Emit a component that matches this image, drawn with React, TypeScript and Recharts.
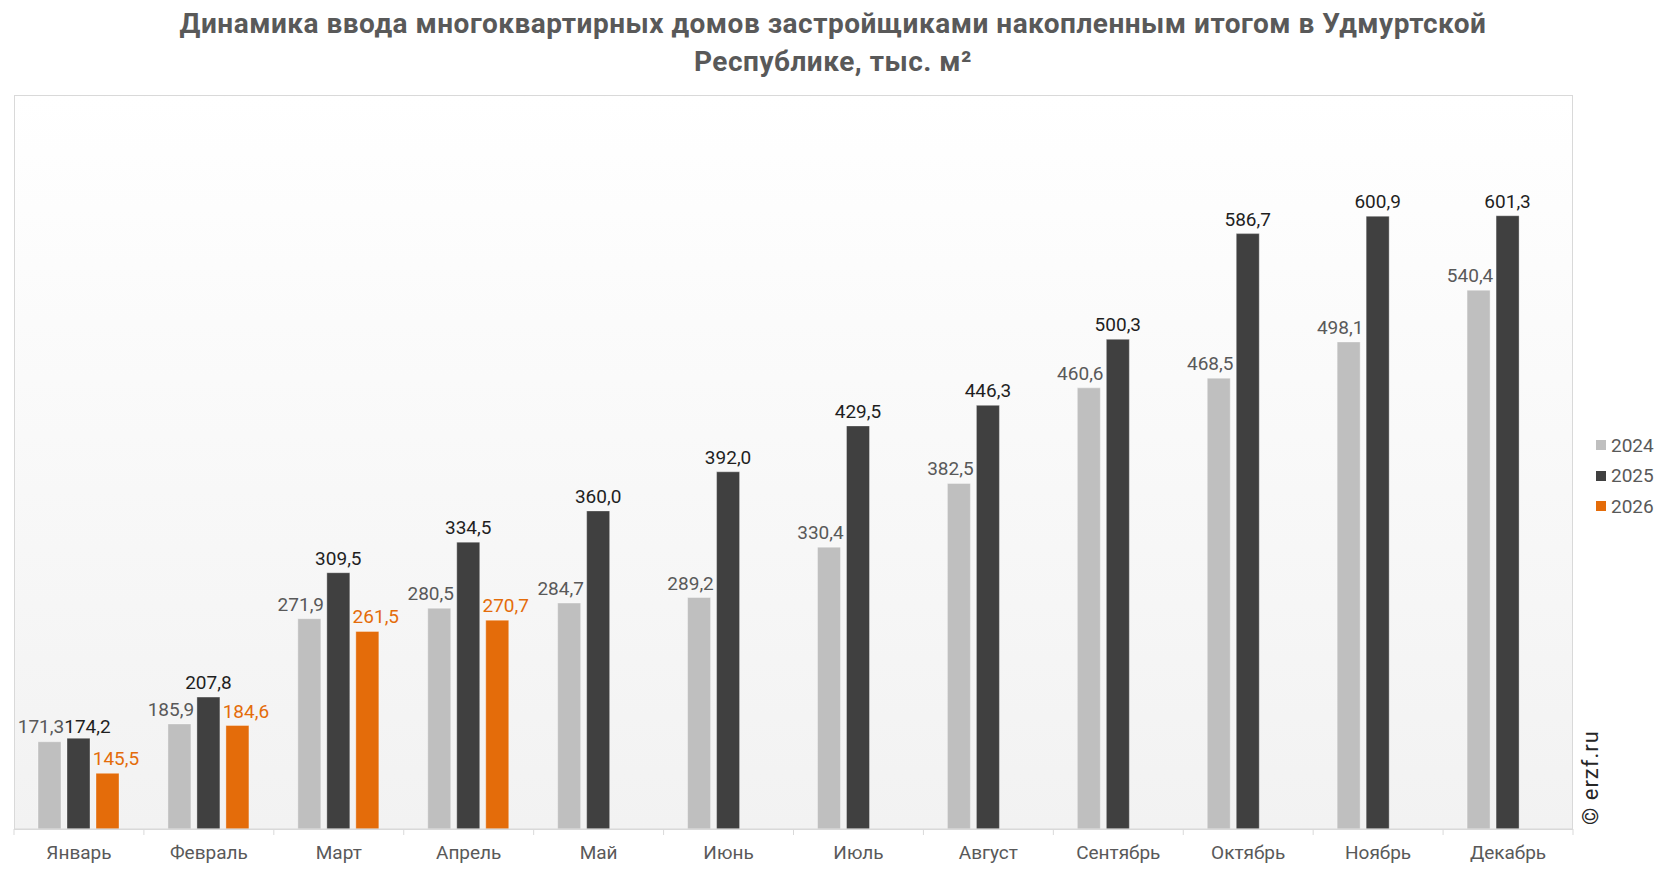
import React from 'react';
import { BarChart, Bar, XAxis, YAxis, LabelList, Legend } from 'recharts';

const months = ['Январь', 'Февраль', 'Март', 'Апрель', 'Май', 'Июнь', 'Июль', 'Август', 'Сентябрь', 'Октябрь', 'Ноябрь', 'Декабрь'];
const v2024 = [171.3, 185.9, 271.9, 280.5, 284.7, 289.2, 330.4, 382.5, 460.6, 468.5, 498.1, 540.4];
const v2025 = [174.2, 207.8, 309.5, 334.5, 360.0, 392.0, 429.5, 446.3, 500.3, 586.7, 600.9, 601.3];
const v2026: (number | null)[] = [145.5, 184.6, 261.5, 270.7, null, null, null, null, null, null, null, null];

const seriesNames = ['2024', '2025', '2026'];
const barColors = ['#BFBFBF', '#404040', '#E46C0A'];
const labelColors = ['#595959', '#1F1F1F', '#E46C0A'];
// horizontal label shift per series (labels sit off-centre in the reference)
const labelShift = [-8.5, 0, 8.5];

const data = months.map((m, i) => ({ month: m, s2024: v2024[i], s2025: v2025[i], s2026: v2026[i] }));

const W = 1666;
const H = 872;
const PLOT_LEFT = 14;
const PLOT_RIGHT = 1573;
const PLOT_TOP = 95;
const PLOT_BOTTOM = 829;
const XAXIS_H = 30;
const BAND = (PLOT_RIGHT - PLOT_LEFT) / months.length;
const FONT = 'Roboto, "Noto Sans", sans-serif';

const fmt = (v: number) => v.toFixed(1).replace('.', ',');

const makeLabel = (seriesIdx: number) => (props: any) => {
  const { x, y, width, value, index } = props;
  if (value === null || value === undefined) return null;
  let dx = labelShift[seriesIdx];
  let dy = 0;
  if (seriesIdx === 1 && index === 0) {
    dx = 9;
    dy = 3;
  }
  if (seriesIdx === 0 && index === 0) {
    dy = -1;
  }
  return (
    <text
      x={Number(x) + Number(width) / 2 + dx}
      y={Number(y) - 8 + dy}
      textAnchor="middle"
      fill={labelColors[seriesIdx]}
      fontSize={19}
      fontFamily={FONT}
    >
      {fmt(Number(value))}
    </text>
  );
};

const MonthTick = (props: any) => {
  const { x, payload, index } = props;
  const isLast = index === months.length - 1;
  return (
    <g>
      <line x1={x - BAND / 2} x2={x - BAND / 2} y1={PLOT_BOTTOM} y2={PLOT_BOTTOM + 6} stroke="#D9D9D9" strokeWidth={1} />
      {isLast && <line x1={x + BAND / 2} x2={x + BAND / 2} y1={PLOT_BOTTOM} y2={PLOT_BOTTOM + 6} stroke="#D9D9D9" strokeWidth={1} />}
      <text x={x} y={PLOT_BOTTOM + 30} textAnchor="middle" fill="#595959" fontSize={19} fontFamily={FONT}>
        {payload.value}
      </text>
    </g>
  );
};

const LegendContent = (props: any) => {
  const payload = props.payload || [];
  return (
    <div style={{ fontFamily: FONT }}>
      {payload.map((p: any) => (
        <div key={p.value} style={{ display: 'flex', alignItems: 'center', height: 30.5 }}>
          <span style={{ display: 'inline-block', width: 10, height: 10, background: p.color, marginRight: 5 }} />
          <span style={{ fontSize: 19, color: '#595959' }}>{p.value}</span>
        </div>
      ))}
    </div>
  );
};

export default function App() {
  return (
    <div style={{ position: 'absolute', left: 0, top: 0, width: W, height: H, background: '#FFFFFF', fontFamily: FONT, overflow: 'hidden' }}>
      <div
        style={{
          position: 'absolute',
          left: 0,
          top: 5,
          width: W,
          textAlign: 'center',
          fontSize: 28,
          letterSpacing: '0.5px',
          lineHeight: '38px',
          fontWeight: 700,
          color: '#595959',
        }}
      >
        <div>Динамика ввода многоквартирных домов застройщиками накопленным итогом в Удмуртской</div>
        <div>Республике, тыс. м²</div>
      </div>
      <div
        style={{
          position: 'absolute',
          left: PLOT_LEFT,
          top: PLOT_TOP,
          width: PLOT_RIGHT - PLOT_LEFT,
          height: PLOT_BOTTOM - PLOT_TOP + 1,
          boxSizing: 'border-box',
          border: '1px solid #D9D9D9',
          background: 'linear-gradient(to bottom, #FFFFFF 0%, #F2F2F2 100%)',
        }}
      />
      <div style={{ position: 'absolute', left: 0, top: 0 }}>
        <BarChart
          width={W}
          height={H}
          data={data}
          margin={{ top: PLOT_TOP, left: PLOT_LEFT, right: W - PLOT_RIGHT, bottom: H - PLOT_BOTTOM - XAXIS_H }}
          barSize={23}
          barGap={6}
        >
          <YAxis hide domain={[100, 700]} allowDataOverflow type="number" />
          <XAxis
            dataKey="month"
            height={XAXIS_H}
            axisLine={{ stroke: '#D9D9D9' }}
            tickLine={false}
            tickSize={0}
            tickMargin={0}
            interval={0}
            tick={<MonthTick />}
          />
          <Legend
            layout="vertical"
            align="center"
            verticalAlign="middle"
            wrapperStyle={{ left: 1596, top: 430, width: 70 }}
            content={<LegendContent />}
          />
          {['s2024', 's2025', 's2026'].map((k, i) => (
            <Bar key={k} dataKey={k} name={seriesNames[i]} fill={barColors[i]} stroke="#FFFFFF" strokeOpacity={0.35} strokeWidth={1} isAnimationActive={false}>
              <LabelList dataKey={k} content={makeLabel(i)} />
            </Bar>
          ))}
        </BarChart>
      </div>
      <svg style={{ position: 'absolute', left: 0, top: 0, pointerEvents: 'none' }} width={W} height={H}>
        <text x={1598} y={825} transform="rotate(-90 1598 825)" fill="#262626" fontSize={22} letterSpacing={1} fontFamily={FONT}>
          © erzf.ru
        </text>
      </svg>
    </div>
  );
}
